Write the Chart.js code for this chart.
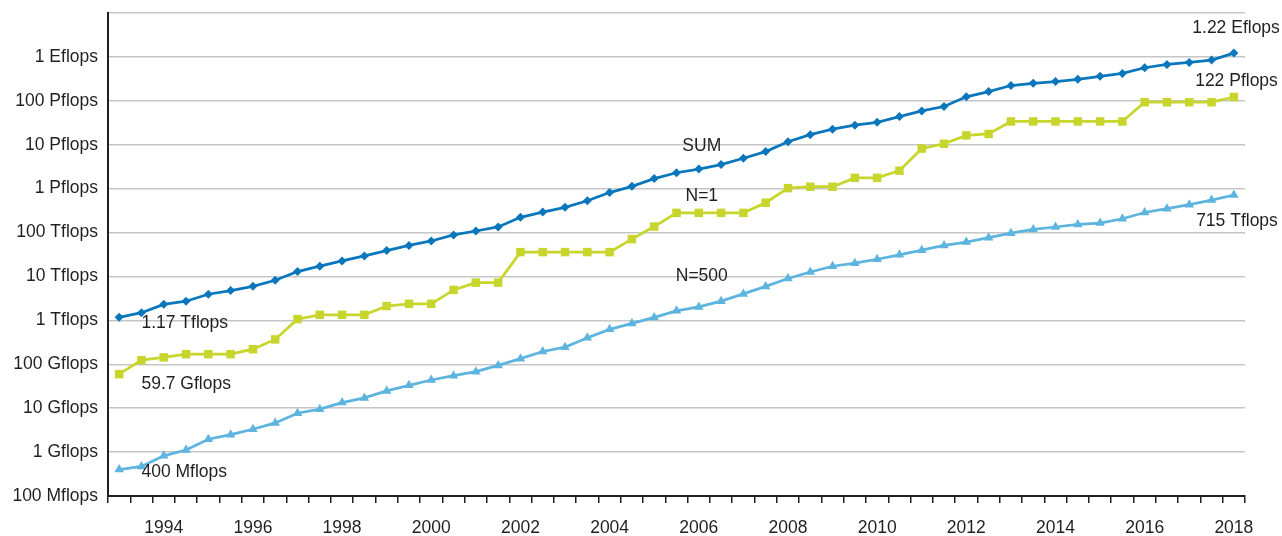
<!DOCTYPE html>
<html>
<head>
<meta charset="utf-8">
<script src="https://cdn.jsdelivr.net/npm/chart.js@4.4.1/dist/chart.umd.min.js"></script>
<style>
  html, body { margin: 0; padding: 0; background: #fff; }
  #wrap { width: 1282px; height: 536px; }
</style>
</head>
<body>
<div id="wrap"><canvas id="myChart" width="1282" height="536"></canvas></div>
<script>
// TOP500 lists, June and November of each year
const lists = [
  '1993-06', '1993-11', '1994-06', '1994-11', '1995-06', '1995-11', '1996-06', '1996-11',
  '1997-06', '1997-11', '1998-06', '1998-11', '1999-06', '1999-11', '2000-06', '2000-11',
  '2001-06', '2001-11', '2002-06', '2002-11', '2003-06', '2003-11', '2004-06', '2004-11',
  '2005-06', '2005-11', '2006-06', '2006-11', '2007-06', '2007-11', '2008-06', '2008-11',
  '2009-06', '2009-11', '2010-06', '2010-11', '2011-06', '2011-11', '2012-06', '2012-11',
  '2013-06', '2013-11', '2014-06', '2014-11', '2015-06', '2015-11', '2016-06', '2016-11',
  '2017-06', '2017-11', '2018-06'
];

// performance in Gflops
const sumGflops = [
  1170, 1493, 2317, 2732, 3930, 4782, 5957, 8178,
  12907, 17142, 22588, 29391, 38812, 50835, 64326, 88075,
  108556, 134326, 222191, 292902, 374984, 528042, 813144, 1126939,
  1690940, 2299650, 2791758, 3537000, 4920000, 6970000, 11700000, 16960000,
  22600000, 27950000, 32430000, 43670000, 58880000, 74150000, 123400000, 162000000,
  223000000, 250000000, 274000000, 309000000, 361000000, 420000000, 567000000, 672000000,
  749000000, 845000000, 1220000000
];

const n1Gflops = [
  59.7, 124, 143.4, 170, 170, 170, 220.4, 368.2,
  1068, 1338, 1338, 1338, 2121, 2379, 2379, 4938,
  7226, 7226, 35860, 35860, 35860, 35860, 35860, 70720,
  136800, 280600, 280600, 280600, 280600, 478200, 1026000, 1105000,
  1105000, 1759000, 1759000, 2566000, 8162000, 10510000, 16320000, 17590000,
  33860000, 33860000, 33860000, 33860000, 33860000, 33860000, 93010000, 93010000,
  93010000, 93010000, 122300000
];

const n500Gflops = [
  0.4, 0.472, 0.822, 1.114, 1.96, 2.49, 3.31, 4.62,
  7.67, 9.51, 13.39, 17.12, 24.73, 33.11, 43.82, 55.1,
  67.78, 94.3, 134.3, 195.8, 245.1, 403.4, 624, 850.6,
  1166, 1646, 2026, 2737, 4005, 5929, 9000, 12640,
  17090, 20050, 24670, 31120, 39770, 50940, 60830, 76500,
  96620, 117800, 133700, 153400, 164800, 206300, 286100, 349300,
  432200, 548300, 715600
];

const yTickValues = [0.1, 1, 10, 1e2, 1e3, 1e4, 1e5, 1e6, 1e7, 1e8, 1e9, 1e10];
const yTickLabels = [
  '100 Mflops', '1 Gflops', '10 Gflops', '100 Gflops', '1 Tflops', '10 Tflops',
  '100 Tflops', '1 Pflops', '10 Pflops', '100 Pflops', '1 Eflops', ''
];

const textColor = '#231f20';
const fontFamily = '"Liberation Sans", Arial, sans-serif';
const fontSize = 17.5;

const ctx = document.getElementById('myChart').getContext('2d');

// text labels placed next to the lines
const labelsPlugin = {
  id: 'lineLabels',
  afterDatasetsDraw(chart) {
    const x = chart.scales.x;
    const y = chart.scales.y;
    const c = chart.ctx;
    const last = lists.length - 1;
    c.save();
    c.fillStyle = textColor;
    c.font = fontSize + 'px ' + fontFamily;
    c.textBaseline = 'middle';

    c.textAlign = 'left';
    c.fillText('1.17 Tflops', x.getPixelForValue(1), y.getPixelForValue(sumGflops[0]) + 6);
    c.fillText('59.7 Gflops', x.getPixelForValue(1), y.getPixelForValue(n1Gflops[0]) + 10);
    c.fillText('400 Mflops', x.getPixelForValue(1), y.getPixelForValue(n500Gflops[0]) + 3);

    c.textAlign = 'right';
    c.fillText('1.22 Eflops', x.getPixelForValue(last) + 46, y.getPixelForValue(sumGflops[last]) - 25);
    c.fillText('122 Pflops', x.getPixelForValue(last) + 44, y.getPixelForValue(n1Gflops[last]) - 16);
    c.fillText('715 Tflops', x.getPixelForValue(last) + 44, y.getPixelForValue(n500Gflops[last]) + 26);

    c.textAlign = 'center';
    c.fillText('SUM', x.getPixelForValue(26) + 3, y.getPixelForValue(sumGflops[26]) - 23);
    c.fillText('N=1', x.getPixelForValue(26) + 3, y.getPixelForValue(n1Gflops[26]) - 17);
    c.fillText('N=500', x.getPixelForValue(26) + 3, y.getPixelForValue(n500Gflops[26]) - 31);
    c.restore();
  }
};

const myChart = new Chart(ctx, {
  type: 'line',
  data: {
    labels: lists,
    datasets: [
      {
        label: 'SUM',
        data: sumGflops,
        borderColor: '#0a77bc',
        backgroundColor: '#0a77bc',
        borderWidth: 2.75,
        pointStyle: 'rectRot',
        pointRadius: 4.5,
        pointBorderWidth: 0
      },
      {
        label: 'N=1',
        data: n1Gflops,
        borderColor: '#c8d52c',
        backgroundColor: '#c8d52c',
        borderWidth: 2.75,
        pointStyle: 'rect',
        pointRadius: 6,
        pointBorderWidth: 0
      },
      {
        label: 'N=500',
        data: n500Gflops,
        borderColor: '#5db4de',
        backgroundColor: '#5db4de',
        borderWidth: 2.75,
        pointStyle: 'triangle',
        pointRadius: 5.5,
        pointBorderWidth: 0
      }
    ]
  },
  options: {
    responsive: false,
    animation: false,
    devicePixelRatio: 1,
    layout: { padding: { top: 13, right: 37, left: 0, bottom: 0 } },
    plugins: {
      legend: { display: false },
      tooltip: { enabled: false }
    },
    elements: { line: { tension: 0 } },
    scales: {
      x: {
        type: 'category',
        offset: true,
        grid: {
          offset: true,
          drawOnChartArea: false,
          drawTicks: true,
          tickLength: 7,
          color: textColor,
          lineWidth: 1.5
        },
        border: { display: true, color: textColor, width: 2 },
        ticks: {
          autoSkip: false,
          maxRotation: 0,
          minRotation: 0,
          padding: 15,
          color: textColor,
          font: { family: fontFamily, size: fontSize },
          callback: function (value) {
            const lab = this.getLabelForValue(value);
            const year = parseInt(lab.slice(0, 4), 10);
            return (lab.slice(5) === '06' && year % 2 === 0) ? String(year) : '';
          }
        },
        afterFit: scale => {
          scale.height = 40;
          scale.paddingLeft = 0;
          scale.paddingRight = 0;
        }
      },
      y: {
        type: 'logarithmic',
        min: 0.1,
        max: 1e10,
        afterBuildTicks: scale => {
          scale.ticks = yTickValues.map(v => ({ value: v }));
        },
        grid: {
          drawTicks: false,
          color: '#c6c6c6',
          lineWidth: 1.5
        },
        border: { display: true, color: textColor, width: 2 },
        ticks: {
          padding: 10,
          color: textColor,
          font: { family: fontFamily, size: fontSize },
          callback: function (value) {
            const i = yTickValues.indexOf(value);
            return i >= 0 ? yTickLabels[i] : '';
          }
        },
        afterFit: scale => {
          scale.width = 108;
          scale.paddingTop = 0;
          scale.paddingBottom = 0;
        }
      }
    }
  },
  plugins: [labelsPlugin]
});
</script>
</body>
</html>
